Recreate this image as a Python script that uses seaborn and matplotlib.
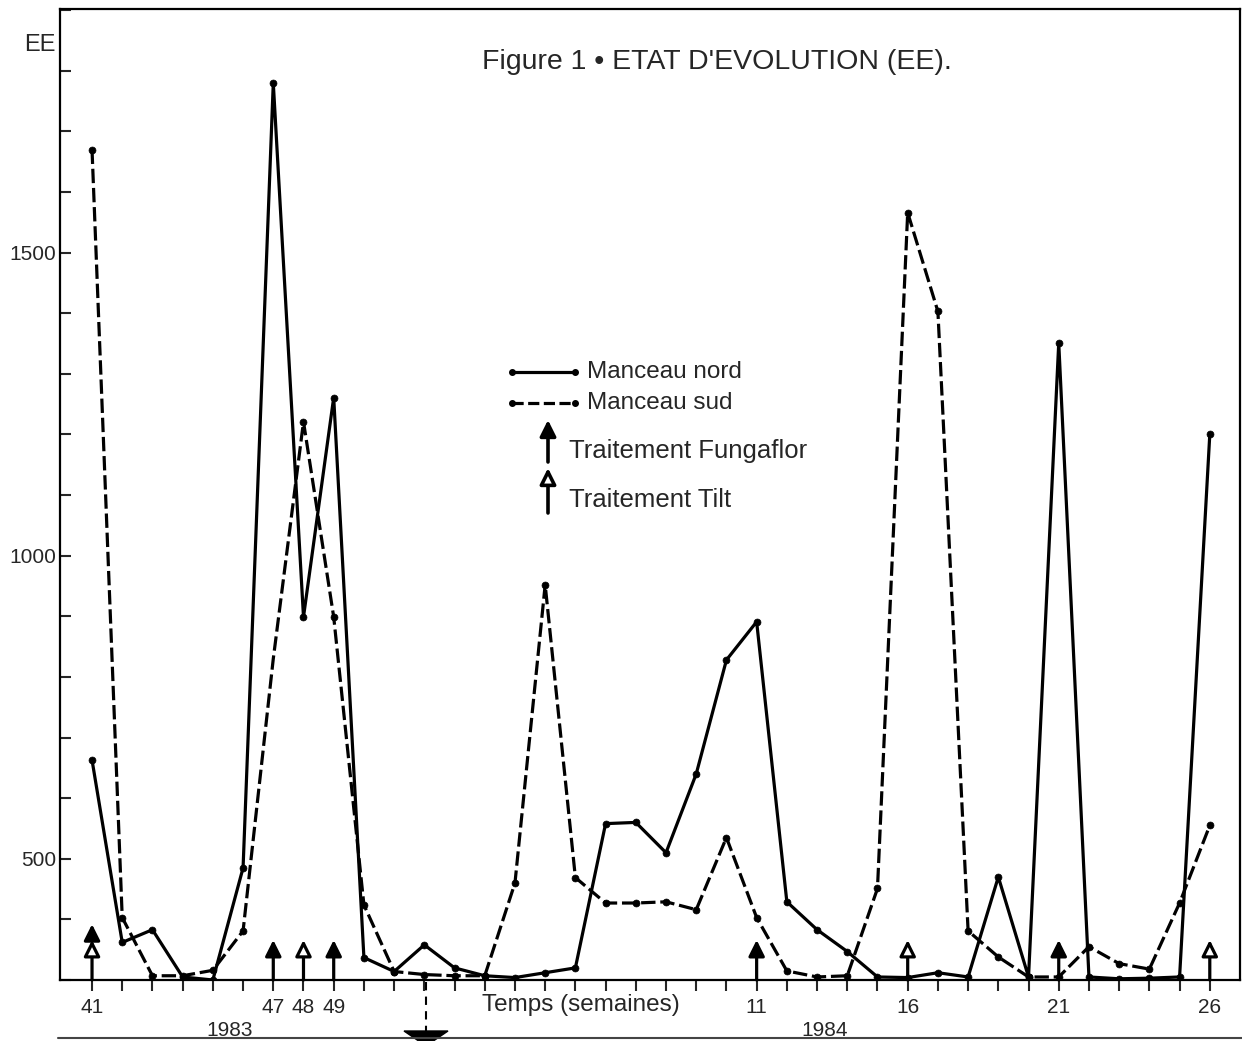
import matplotlib
matplotlib.use('Agg')
import matplotlib.pyplot as plt
from matplotlib.lines import Line2D
from matplotlib.patches import Polygon, FancyArrowPatch
import pandas as pd
import seaborn as sns

# weeks of observation (1983 week 41 -> 1984 week 26)
weeks = [41, 42, 43, 44, 45, 46, 47, 48, 49, 50, 51, 52,
         1, 2, 3, 4, 5, 6, 7, 8, 9, 10, 11, 12, 13, 14, 15, 16, 17, 18, 19, 20,
         21, 22, 23, 24, 25, 26]
nord = [663, 362, 383, 305, 300, 485, 1780, 899, 1261, 337, 314, 358,
        320, 307, 304, 312, 320, 558, 560, 510, 640, 828, 891, 429, 383, 347,
        305, 304, 312, 305, 470, 305, 1351, 305, 302, 303, 305, 1200]
sud = [1670, 403, 307, 307, 316, 381, 830, 1221, 899, 424, 314, 309,
       307, 307, 460, 952, 469, 427, 427, 429, 416, 535, 403, 315, 305, 307,
       451, 1566, 1403, 381, 338, 305, 305, 355, 327, 318, 427, 555]
fungaflor_weeks = [41, 47, 49, 11, 21]
tilt_weeks = [41, 48, 16, 26]
labelled_weeks = [41, 47, 48, 49, 11, 16, 21, 26]

sns.set_style('ticks')
plt.rcParams['font.family'] = ['Liberation Sans', 'DejaVu Sans']

W, H = 1242, 1041
fig = plt.figure(figsize=(W / 100, H / 100), dpi=100)
ax = fig.add_axes([60 / W, 1 - 980 / H, 1180 / W, 971 / H])

pos = list(range(len(weeks)))
n = len(weeks)
df = pd.DataFrame({
    'pos': pos * 2,
    'EE': nord + sud,
    'serie': ['Manceau nord'] * n + ['Manceau sud'] * n,
})

sns.lineplot(data=df, x='pos', y='EE', style='serie',
             dashes={'Manceau nord': '', 'Manceau sud': (4.5, 1.5)},
             markers={'Manceau nord': 'o', 'Manceau sud': 'o'},
             color='black', lw=2.3, markersize=5, markeredgecolor='black',
             markeredgewidth=0.5, legend=False, ax=ax)
# no dot drawn on the south curve at week 47 in the original
ax.lines[1].set_markevery([i for i in pos if weeks[i] != 47])

ax.set_xlim(-1.06, 38)
ax.set_ylim(300, 1902)
ax.set_xticks(pos)
ax.set_xticklabels([str(w) if w in labelled_weeks else '' for w in weeks])
yt = list(range(300, 1901, 100))
ax.set_yticks(yt)
ax.set_yticklabels([str(v) if v in (500, 1000, 1500) else '' for v in yt])
ax.tick_params(axis='x', direction='out', length=8, width=1.5, labelsize=15, pad=5)
ax.tick_params(axis='y', direction='in', length=8, width=1.5, labelsize=15, pad=3)
ax.set_xlabel('')
ax.set_ylabel('')
for s in ax.spines.values():
    s.set_linewidth(1.6)
    s.set_color('black')


def arrow(x, y0, y1, filled):
    ax.annotate('', xy=(x, y1), xytext=(x, y0),
                arrowprops=dict(arrowstyle='-|>,head_length=0.6,head_width=0.3',
                                mutation_scale=16, lw=2.3, ec='black',
                                fc='black' if filled else 'white',
                                shrinkA=0, shrinkB=0))


# treatment arrows
for w in tilt_weeks:
    arrow(weeks.index(w), 300, 366, False)
for w in fungaflor_weeks:
    if w in tilt_weeks:
        arrow(weeks.index(w), 372, 392, True)
    else:
        arrow(weeks.index(w), 300, 366, True)


def fx(x):
    return x / W


def fy(y):
    return 1 - y / H


# title and axis texts
fig.text(fx(717), fy(62), "Figure 1 \u2022 ETAT D'EVOLUTION (EE).",
         ha='center', va='center', fontsize=20.5)
fig.text(fx(40), fy(45), 'EE', ha='center', va='center', fontsize=17)
fig.text(fx(581), fy(1005), 'Temps (semaines)', ha='center', va='center', fontsize=17.5)
fig.text(fx(230), fy(1030), '1983', ha='center', va='center', fontsize=15)
fig.text(fx(825), fy(1030), '1984', ha='center', va='center', fontsize=15)

# legend drawn by hand
fig.add_artist(Line2D([fx(512), fx(575)], [fy(372), fy(372)], color='black', lw=2.3,
                      marker='o', markersize=4))
fig.add_artist(Line2D([fx(512), fx(575)], [fy(403), fy(403)], color='black', lw=2.3,
                      dashes=(3.5, 1.4), marker='o', markersize=4))
fig.text(fx(587), fy(372), 'Manceau nord', va='center', fontsize=17.5)
fig.text(fx(587), fy(403), 'Manceau sud', va='center', fontsize=17.5)
for (y0, y1, filled, label, ty) in [(462, 420, True, 'Traitement Fungaflor', 451),
                                    (513, 468, False, 'Traitement Tilt', 500)]:
    fig.add_artist(FancyArrowPatch(
        (fx(548), fy(y0)), (fx(548), fy(y1)), transform=fig.transFigure,
        arrowstyle='-|>,head_length=0.6,head_width=0.3', mutation_scale=16,
        lw=2.6, ec='black', fc='black' if filled else 'white', shrinkA=0, shrinkB=0))
    fig.text(fx(569), fy(ty), label, va='center', fontsize=18.5)

# year separator at the bottom
fig.add_artist(Line2D([fx(58), fx(1242)], [fy(1038), fy(1038)], color='#444444', lw=1.5))
fig.add_artist(Line2D([fx(426), fx(426)], [fy(982), fy(1034)], color='black', lw=1.5,
                      dashes=(4, 3)))
fig.add_artist(Polygon([(fx(404), fy(1031)), (fx(448), fy(1031)), (fx(426), fy(1046))],
                       closed=True, transform=fig.transFigure, color='black'))

fig.savefig('out.png', dpi=100)
